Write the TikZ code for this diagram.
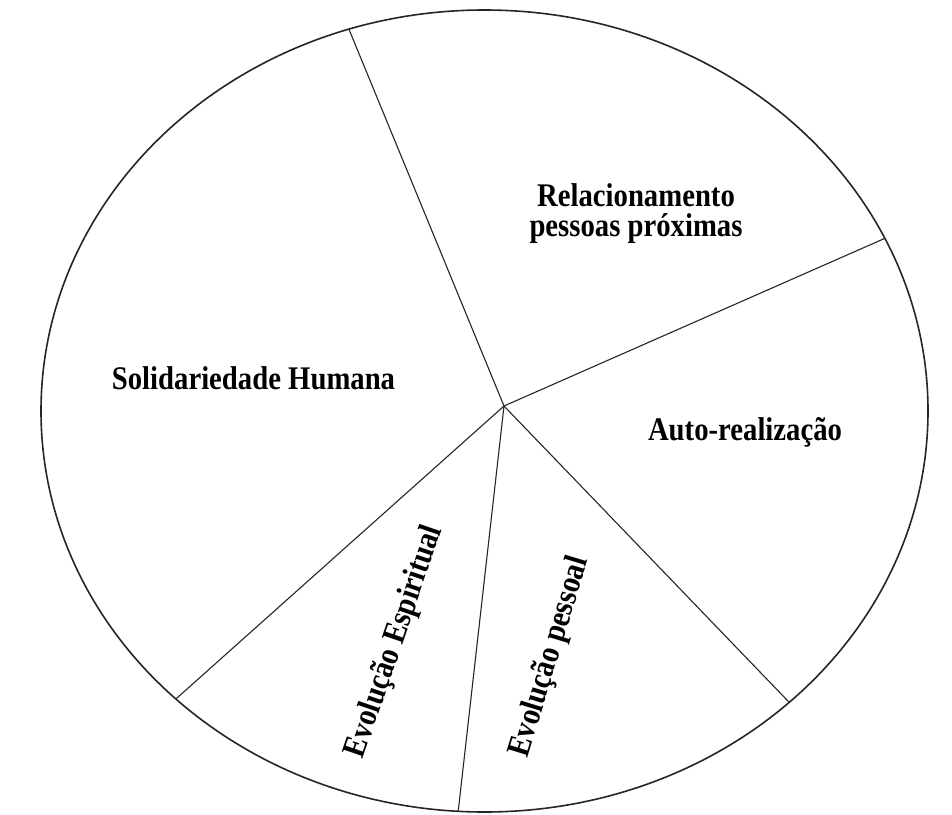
\documentclass[tikz,border=0pt]{standalone}
\usepackage{fontspec}
\setmainfont{Liberation Serif}
\usetikzlibrary{calc}
\begin{document}
\begin{tikzpicture}[x=1pt,y=-1pt,
  rim/.style={line width=1.6pt, draw=black!85},
  spoke/.style={line width=1.1pt, draw=black!85},
  lab/.style={font=\fontsize{33}{30}\selectfont\bfseries, inner sep=0pt, xscale=0.87}]
\useasboundingbox (0,0) rectangle (952,814);
\fill[white] (0,0) rectangle (952,814);
\coordinate (o) at (484.5,411);
\draw[rim] (o) ellipse [x radius=443.5pt, y radius=401pt];
\coordinate (c) at (504,406);
\coordinate (e1) at ($(o)+(107.8:443.5pt and 401pt)$);
\coordinate (e2) at ($(o)+(25.5:443.5pt and 401pt)$);
\coordinate (e3) at ($(o)+(-46.6:443.5pt and 401pt)$);
\coordinate (e4) at ($(o)+(-93.4:443.5pt and 401pt)$);
\coordinate (e5) at ($(o)+(-134.1:443.5pt and 401pt)$);
\draw[spoke] (c) -- (e1);
\draw[spoke] (c) -- (e2);
\draw[spoke] (c) -- (e3);
\draw[spoke] (c) -- (e4);
\draw[spoke] (c) -- (e5);
\node[lab, anchor=base] (sol) at (253.5,389) {Solidariedade Humana};
\node[lab, anchor=base] (auto) at (745,440) {Auto-realização};
\node[lab, align=center] (rel) at (636,214) {Relacionamento\\pessoas próximas};
\node[rotate=71, lab] (esp) at (395,642) {Evolução Espiritual};
\node[rotate=73, lab] (pes) at (550,657) {Evolução pessoal};
\end{tikzpicture}
\end{document}
